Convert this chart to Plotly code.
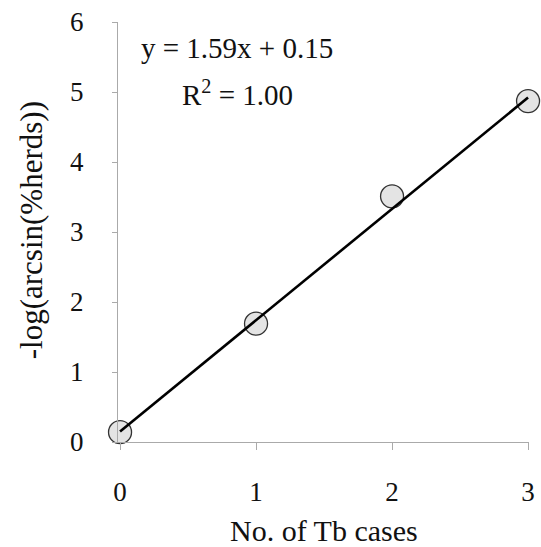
import plotly.graph_objects as go

tb_cases = [0, 1, 2, 3]
neg_log_arcsin = [0.14, 1.69, 3.51, 4.87]
slope = 1.59
intercept = 0.15
r2 = 1.00
x_ticks = [0, 1, 2, 3]
y_ticks = [0, 1, 2, 3, 4, 5, 6]

FONT = "Liberation Serif"

fit_x = [tb_cases[0], tb_cases[-1]]
fit_y = [slope * v + intercept for v in fit_x]

fig = go.Figure()
fig.add_trace(go.Scatter(
    x=tb_cases, y=neg_log_arcsin, mode="markers",
    marker=dict(size=23, color="#e4e4e4", line=dict(color="#333333", width=1.3)),
    cliponaxis=False, showlegend=False,
))
fig.add_trace(go.Scatter(
    x=fit_x, y=fit_y, mode="lines",
    line=dict(color="black", width=2.6),
    cliponaxis=False, showlegend=False,
))

fig.update_layout(
    width=541, height=547,
    margin=dict(l=118, r=6, t=22, b=105),
    paper_bgcolor="white", plot_bgcolor="white",
    font=dict(family=FONT, size=27, color="#111111"),
    xaxis=dict(
        range=[-0.015, 3.007], tickvals=x_ticks, ticktext=[str(v) for v in x_ticks],
        showgrid=False, zeroline=False, showline=True, linecolor="#aaaaaa", linewidth=1,
        ticks="outside", ticklen=7, tickcolor="#aaaaaa", ticklabelstandoff=19,
        tickfont=dict(family=FONT, size=27),
    ),
    yaxis=dict(
        range=[0, 6], tickvals=y_ticks, ticktext=[str(v) for v in y_ticks],
        showgrid=False, zeroline=False, showline=True, linecolor="#aaaaaa", linewidth=1,
        ticks="outside", ticklen=5, tickcolor="#aaaaaa", ticklabelstandoff=23,
        tickfont=dict(family=FONT, size=27),
    ),
    annotations=[
        dict(text=f"y = {slope:.2f}x + {intercept:.2f}", xref="paper", yref="paper",
             x=(239 - 118) / 417, y=(442 - 48) / 420, xanchor="center", yanchor="middle",
             showarrow=False, font=dict(family=FONT, size=29)),
        dict(text=f"R<sup>2</sup> = {r2:.2f}", xref="paper", yref="paper",
             x=(239 - 118) / 417, y=(442 - 93) / 420, xanchor="center", yanchor="middle",
             showarrow=False, font=dict(family=FONT, size=29)),
        dict(text="No. of Tb cases", xref="paper", yref="paper",
             x=(327 - 118) / 417, y=(442 - 530) / 420, xanchor="center", yanchor="middle",
             showarrow=False, font=dict(family=FONT, size=30)),
        dict(text="-log(arcsin(%herds))", xref="paper", yref="paper", textangle=-90,
             x=(30 - 118) / 417, y=(442 - 230) / 420, xanchor="center", yanchor="middle",
             showarrow=False, font=dict(family=FONT, size=31)),
    ],
)

fig.write_html("out.html", config={"displayModeBar": False},
               post_script="document.body.style.margin='0px';document.body.style.overflow='hidden';")
